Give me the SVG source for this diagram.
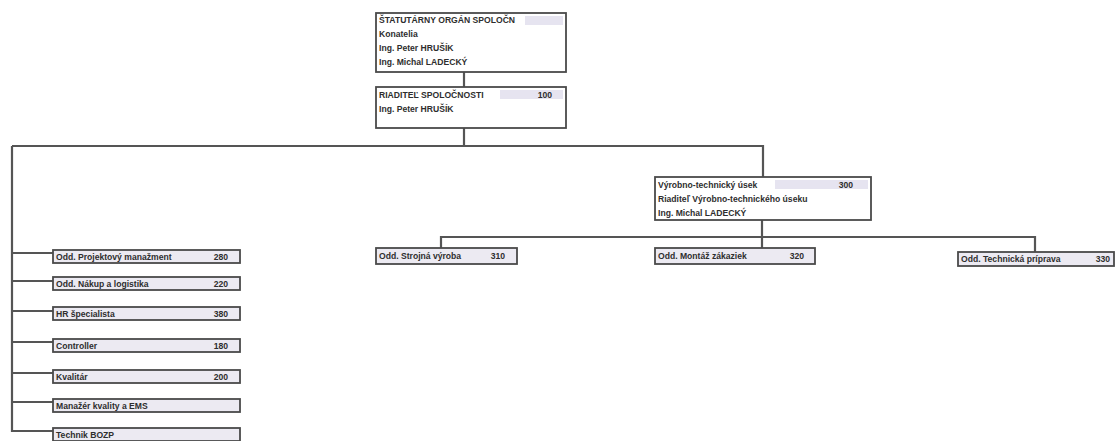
<svg xmlns="http://www.w3.org/2000/svg" width="1116" height="441" viewBox="0 0 1116 441">
<style>
.box{fill:#ffffff;stroke:#4a4a4a;stroke-width:1.8}
.sbox{fill:#eceaf2;stroke:#4a4a4a;stroke-width:1.8}
.band{fill:#e6e4f0}
.t{font-family:"Liberation Sans",Arial,sans-serif;font-size:8.6px;font-weight:bold;fill:#2e2e2e}
.n{font-family:"Liberation Sans",Arial,sans-serif;font-size:8.6px;font-weight:bold;fill:#2e2e2e;text-anchor:end}
.c{fill:none;stroke:#555;stroke-width:2.2}
</style>
<rect width="1116" height="441" fill="#ffffff"/>
<g id="connectors">
<path class="c" d="M464 72V87"/>
<path class="c" d="M464 128V146"/>
<path class="c" d="M12 146H763V177"/>
<path class="c" d="M12 146V432"/>
<path class="c" d="M12 253H53M12 281H53M12 311H53M12 342H53M12 373H53M12 402H53M12 431H53"/>
<path class="c" d="M762 220V237"/>
<path class="c" d="M441 248V237H1035V252"/>
<path class="c" d="M762 237V248"/>
</g>
<g id="statutarny">
<rect class="box" x="376" y="13" width="190" height="59"/>
<rect class="band" x="525" y="16" width="38" height="9"/>
<text class="t" x="379" y="23">ŠTATUTÁRNY ORGÁN SPOLOČN</text>
<text class="t" x="379" y="37">Konatelia</text>
<text class="t" x="379" y="51">Ing. Peter HRUŠÍK</text>
<text class="t" x="379" y="65">Ing. Michal LADECKÝ</text>
</g>
<g id="riaditel">
<rect class="box" x="376" y="87" width="190" height="41"/>
<rect class="band" x="500" y="90" width="63" height="9"/>
<text class="t" x="379" y="98">RIADITEĽ SPOLOČNOSTI</text>
<text class="n" x="552" y="98">100</text>
<text class="t" x="379" y="112">Ing. Peter HRUŠÍK</text>
</g>
<g id="vyrobno">
<rect class="box" x="655" y="177" width="216" height="43"/>
<rect class="band" x="775" y="180" width="93" height="9"/>
<text class="t" x="658" y="188">Výrobno-technický úsek</text>
<text class="n" x="853" y="188">300</text>
<text class="t" x="658" y="202">Riaditeľ Výrobno-technického úseku</text>
<text class="t" x="658" y="216">Ing. Michal LADECKÝ</text>
</g>
<g id="strojna">
<rect class="sbox" x="376" y="248" width="141" height="16"/>
<text class="t" x="379" y="259">Odd. Strojná výroba</text>
<text class="n" x="505" y="259">310</text>
</g>
<g id="montaz">
<rect class="sbox" x="655" y="248" width="160" height="16"/>
<text class="t" x="658" y="259">Odd. Montáž zákaziek</text>
<text class="n" x="804" y="259">320</text>
</g>
<g id="technicka">
<rect class="sbox" x="958" y="252" width="156" height="14"/>
<text class="t" x="961" y="262">Odd. Technická príprava</text>
<text class="n" x="1110" y="262">330</text>
</g>
<g id="projektovy">
<rect class="sbox" x="53" y="250" width="187" height="13"/>
<text class="t" x="56" y="259.5">Odd. Projektový manažment</text>
<text class="n" x="228" y="259.5">280</text>
</g>
<g id="nakup">
<rect class="sbox" x="53" y="277" width="187" height="13"/>
<text class="t" x="56" y="286.5">Odd. Nákup a logistika</text>
<text class="n" x="228" y="286.5">220</text>
</g>
<g id="hr">
<rect class="sbox" x="53" y="307" width="187" height="13"/>
<text class="t" x="56" y="316.5">HR špecialista</text>
<text class="n" x="228" y="316.5">380</text>
</g>
<g id="controller">
<rect class="sbox" x="53" y="339" width="187" height="13"/>
<text class="t" x="56" y="348.5">Controller</text>
<text class="n" x="228" y="348.5">180</text>
</g>
<g id="kvalitar">
<rect class="sbox" x="53" y="370" width="187" height="13"/>
<text class="t" x="56" y="379.5">Kvalitár</text>
<text class="n" x="228" y="379.5">200</text>
</g>
<g id="manazer">
<rect class="sbox" x="53" y="399" width="187" height="13"/>
<text class="t" x="56" y="408.5">Manažér kvality a EMS</text>
</g>
<g id="technik">
<rect class="sbox" x="53" y="428" width="187" height="13"/>
<text class="t" x="56" y="437.5">Technik BOZP</text>
</g>
</svg>
